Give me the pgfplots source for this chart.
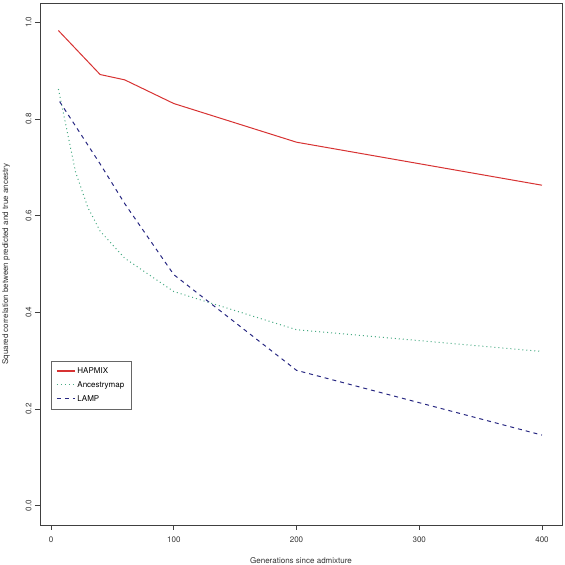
\documentclass[border=0pt]{standalone}
\usepackage{fontspec}
\setmainfont{TeX Gyre Heros}
\usepackage{pgfplots}
\pgfplotsset{compat=1.18}
\definecolor{hapmix}{RGB}{215,50,50}
\definecolor{anc}{RGB}{70,170,130}
\definecolor{lamp}{RGB}{40,40,130}
\begin{document}
\begin{tikzpicture}
\useasboundingbox (-40pt,-40pt) rectangle (525pt,525pt);
\begin{axis}[
  at={(0pt,0pt)}, anchor=south west,
  scale only axis, width=522pt, height=522pt,
  xmin=-9, xmax=416.3, ymin=-0.04, ymax=1.04,
  xtick={0,100,200,300,400},
  ytick={0,0.2,0.4,0.6,0.8,1.0},
  yticklabel style={/pgf/number format/fixed,/pgf/number format/fixed zerofill,/pgf/number format/precision=1},
  /pgf/number format/assume math mode=true,
  tick align=outside, tick pos=lower, major tick length=5pt,
  every tick/.style={black!75, line width=0.6pt},
  axis line style={black!75, line width=0.7pt},
  tick label style={font=\fontsize{8}{9}\selectfont, text=black!80},
  xticklabel style={yshift=-3pt},
  yticklabel style={rotate=90, anchor=south},
  label style={font=\fontsize{8}{9}\selectfont, text=black!80},
  xlabel={Generations since admixture},
  ylabel={Squared correlation between predicted and true ancestry},
  xlabel style={at={(axis description cs:0.5,-0.069)}, anchor=center},
  ylabel style={at={(axis description cs:-0.065,0.5)}, anchor=center, rotate=0},
  legend style={at={(rel axis cs:0.0211,0.3148)}, anchor=north west, draw=black!60,
    font=\fontsize{8}{9}\selectfont, inner xsep=5pt, inner ysep=4.5pt, row sep=2.6pt},
  legend cell align=left,
]
\addplot[draw=hapmix, line width=1pt,
  legend image code/.code={\draw[draw=hapmix, line width=1.2pt] (0pt,0pt) -- (18pt,0pt);}] coordinates {
 (6,0.983) (40,0.892) (60,0.881) (100,0.832) (200,0.752) (400,0.663)};
\addlegendentry{HAPMIX}
\addplot[draw=anc, line width=1pt, dash pattern=on 1pt off 3pt,
  legend image code/.code={\draw[draw=anc, line width=1pt, dash pattern=on 1pt off 3pt] (0pt,0pt) -- (18pt,0pt);}] coordinates {
 (6,0.862) (20,0.69) (30,0.617) (40,0.568) (60,0.512) (100,0.443) (200,0.364) (400,0.319)};
\addlegendentry{Ancestrymap}
\addplot[draw=lamp, line width=1pt, dash pattern=on 4pt off 4pt,
  legend image code/.code={\draw[draw=lamp, line width=1pt, dash pattern=on 4pt off 4pt] (0pt,0pt) -- (18pt,0pt);}] coordinates {
 (7,0.836) (40,0.707) (60,0.625) (100,0.478) (200,0.280) (400,0.146)};
\addlegendentry{LAMP}
\end{axis}
\end{tikzpicture}
\end{document}
